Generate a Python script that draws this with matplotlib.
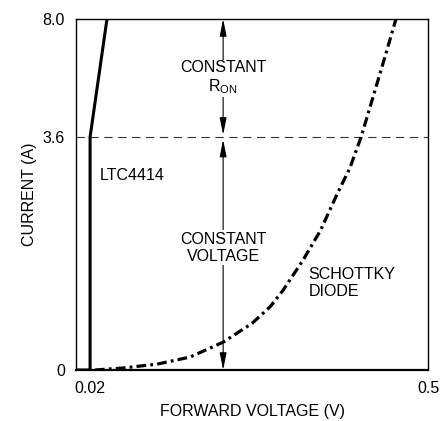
import numpy as np
import matplotlib
matplotlib.use("Agg")
import matplotlib.pyplot as plt

# =========================
# DATA
# =========================

ltc_v = [0.0, 0.02, 0.02, 0.044]
ltc_i = [0.0, 0.0, 3.6, 8.0]

schottky_v = [0.027, 0.066, 0.115, 0.162, 0.209, 0.250, 0.276, 0.294, 0.322,
              0.347, 0.371, 0.389, 0.405, 0.422, 0.439, 0.4545]
schottky_i = [0.0, 0.03, 0.09, 0.2, 0.43, 0.72, 0.98, 1.23, 1.69,
              2.15, 2.72, 3.12, 3.6, 5.1, 6.6, 8.0]

y_ticks = [0, 3.6, 8.0]
y_tick_labels = ["0", "3.6", "8.0"]
x_ticks = [0.02, 0.5]
x_tick_labels = ["0.02", "0.5"]

i_knee = 3.6
v_arrow = 0.209

# =========================
# STYLE
# =========================

plt.rcParams["font.family"] = ["Liberation Sans", "DejaVu Sans"]
plt.rcParams["font.size"] = 11.5
plt.rcParams["lines.scale_dashes"] = False

# axe courant non linéaire (schéma) : 0-3.6 occupe les 2/3 de la hauteur
seg_in = [0.0, 3.6, 8.0]
seg_out = [0.0, 233.0, 351.0]


def fwd(y):
    return np.interp(y, seg_in, seg_out, left=-1e3, right=1e3)


def inv(y):
    return np.interp(y, seg_out, seg_in)


fig = plt.figure(figsize=(4.45, 4.21), dpi=100)
ax = fig.add_axes([76 / 445, (421 - 370) / 421, (428 - 76) / 445, (370 - 19) / 421])
ax.set_yscale("function", functions=(fwd, inv))
ax.set_xlim(0, 0.5)
ax.set_ylim(0, 8.0)

# courbes
ax.plot(ltc_v, ltc_i, color="black", lw=2.2, solid_capstyle="butt", zorder=4)
ax.plot(schottky_v, schottky_i, color="black", lw=2.3,
        linestyle=(0, (7, 3, 2, 3)), zorder=4)

ax.axhline(i_knee, color="#333333", lw=0.8, linestyle=(0, (6, 4)), zorder=2)

# flèches
arrow_kw = dict(arrowstyle="<|-|>,head_length=0.9,head_width=0.18",
                color="black", lw=0.8, shrinkA=0, shrinkB=0)
ax.annotate("", xy=(v_arrow, 8.0), xytext=(v_arrow, i_knee + 0.08), arrowprops=arrow_kw, zorder=3)
ax.annotate("", xy=(v_arrow, i_knee - 0.04), xytext=(v_arrow, 0.0), arrowprops=arrow_kw, zorder=3)

box = dict(facecolor="white", edgecolor="none", pad=1)
ax.text(v_arrow, 5.8, "CONSTANT\nR$_{\\mathregular{ON}}$", ha="center", va="center",
        linespacing=1.15, bbox=box, zorder=5)
ax.text(v_arrow, 1.89, "CONSTANT\nVOLTAGE", ha="center", va="center",
        linespacing=1.15, bbox=box, zorder=5)
ax.text(0.034, 3.0, "LTC4414", ha="left", va="center")
ax.text(0.330, 1.35, "SCHOTTKY\nDIODE", ha="left", va="center", linespacing=1.15)

# axes
ax.set_yticks(y_ticks)
ax.set_yticklabels(y_tick_labels)
ax.set_xticks(x_ticks)
ax.set_xticklabels(x_tick_labels)
ax.tick_params(length=0, pad=8)
ax.tick_params(axis="x", pad=8)
for s in ax.spines.values():
    s.set_linewidth(1.0)
ax.spines["bottom"].set_linewidth(1.6)

ax.set_xlabel("FORWARD VOLTAGE (V)", labelpad=6)
ax.set_ylabel("CURRENT (A)", labelpad=4)

fig.savefig("out.png", dpi=100)
